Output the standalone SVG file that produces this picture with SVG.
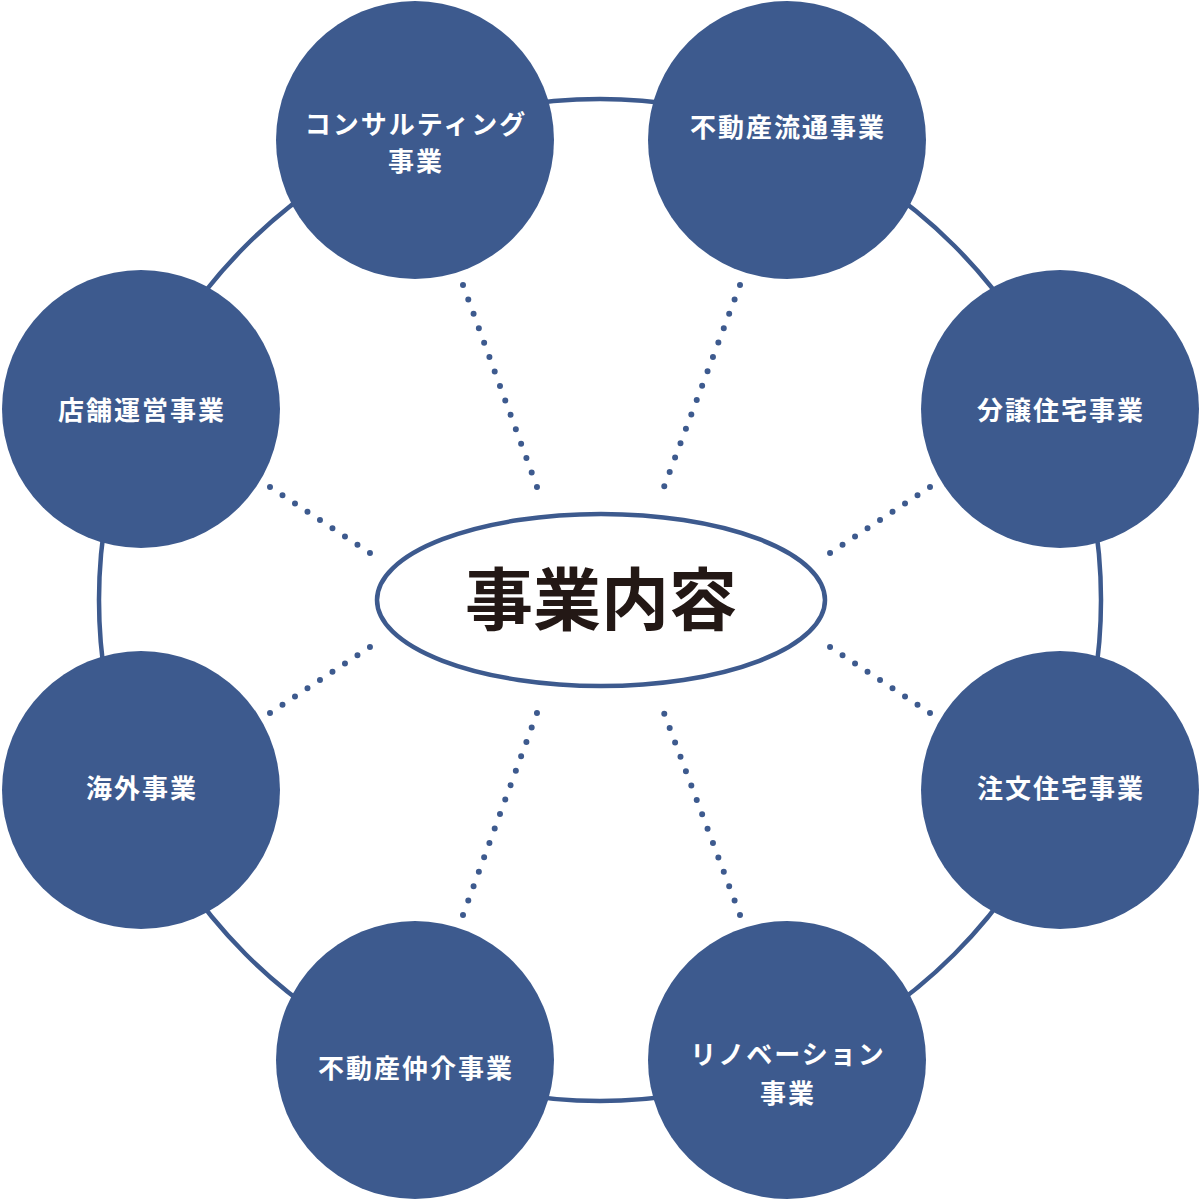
<svg xmlns="http://www.w3.org/2000/svg" width="1200" height="1200" viewBox="0 0 1200 1200">
<style>
.ring{fill:none;stroke:#3d5a8e;stroke-width:4.5}
.node{fill:#3d5a8e}
.lbl{fill:#ffffff;font-family:"Noto Sans CJK JP","Noto Sans CJK SC",sans-serif;font-weight:700;font-size:26px;letter-spacing:2px;text-anchor:middle}
.dot{fill:none;stroke:#3d5a8e;stroke-width:6;stroke-linecap:round}
.dv{stroke-dasharray:0 15.36}
.ds{stroke-dasharray:0 14.97}
.title{fill:#231815;font-family:"Noto Sans CJK JP","Noto Sans CJK SC",sans-serif;font-weight:700;font-size:68px;text-anchor:middle}
</style>
<rect width="1200" height="1200" fill="#ffffff"/>
<circle class="ring" cx="600" cy="600" r="501"/>
<g id="connectors">
<line class="dot dv" x1="463" y1="285" x2="537" y2="487"/>
<line class="dot dv" x1="740" y1="285" x2="664" y2="487"/>
<line class="dot ds" x1="930" y1="487" x2="830" y2="553"/>
<line class="dot ds" x1="930" y1="713" x2="830" y2="647"/>
<line class="dot dv" x1="740" y1="915" x2="664" y2="713"/>
<line class="dot dv" x1="463" y1="915" x2="537" y2="713"/>
<line class="dot ds" x1="270" y1="487" x2="370" y2="553"/>
<line class="dot ds" x1="270" y1="713" x2="370" y2="647"/>
</g>
<g id="center">
<ellipse cx="601" cy="600" rx="224" ry="86" fill="#ffffff" stroke="#3d5a8e" stroke-width="4.5"/>
<text class="title" x="601" y="625">事業内容</text>
</g>
<g id="n-consulting">
<circle class="node" cx="415" cy="140" r="139"/>
<text class="lbl" x="416" y="134">コンサルティング</text>
<text class="lbl" x="416" y="171">事業</text>
</g>
<g id="n-ryutsu">
<circle class="node" cx="787" cy="140" r="139"/>
<text class="lbl" x="788" y="137">不動産流通事業</text>
</g>
<g id="n-bunjo">
<circle class="node" cx="1060" cy="409" r="139"/>
<text class="lbl" x="1061" y="420">分譲住宅事業</text>
</g>
<g id="n-chumon">
<circle class="node" cx="1060" cy="790" r="139"/>
<text class="lbl" x="1061" y="798">注文住宅事業</text>
</g>
<g id="n-renovation">
<circle class="node" cx="787" cy="1060" r="139"/>
<text class="lbl" x="788" y="1064">リノベーション</text>
<text class="lbl" x="788" y="1103">事業</text>
</g>
<g id="n-chukai">
<circle class="node" cx="415" cy="1060" r="139"/>
<text class="lbl" x="416" y="1078">不動産仲介事業</text>
</g>
<g id="n-kaigai">
<circle class="node" cx="141" cy="790" r="139"/>
<text class="lbl" x="142" y="798">海外事業</text>
</g>
<g id="n-tenpo">
<circle class="node" cx="141" cy="409" r="139"/>
<text class="lbl" x="142" y="420">店舗運営事業</text>
</g>
</svg>
